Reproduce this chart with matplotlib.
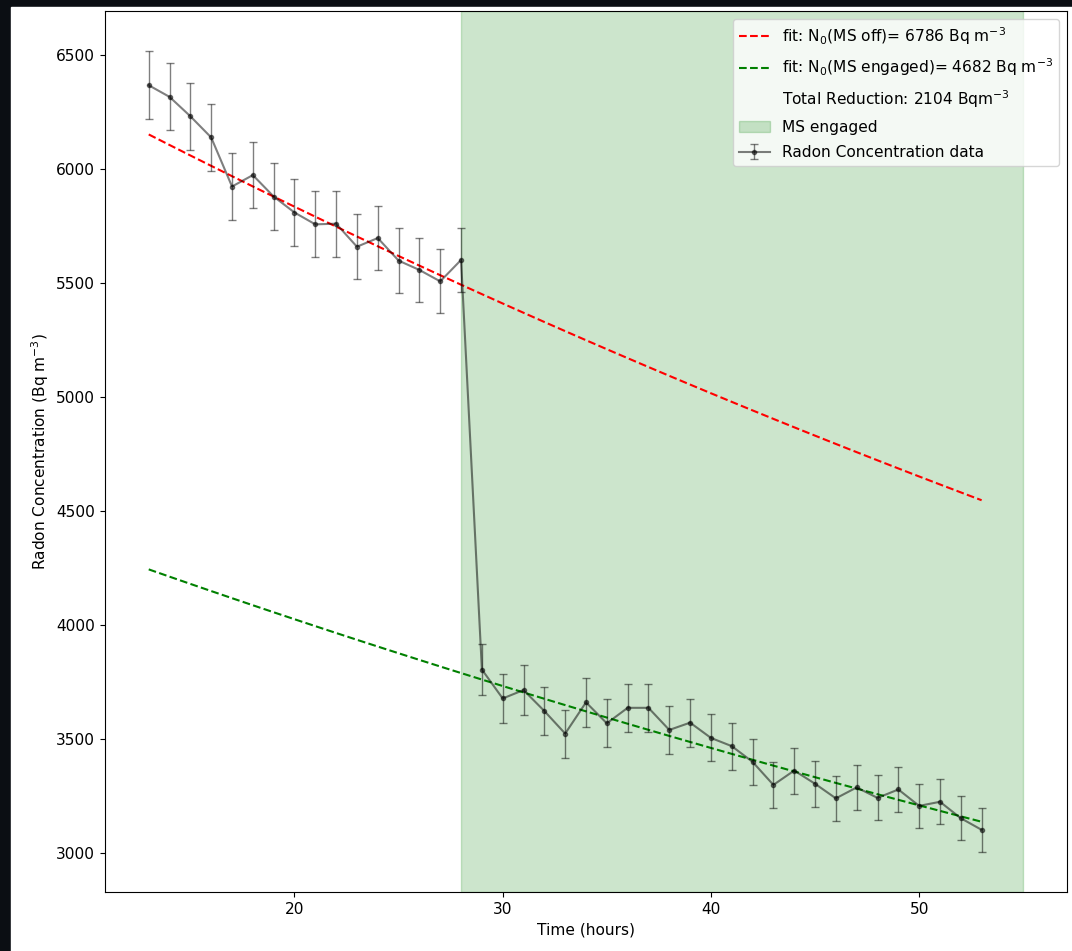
# radon concentration before / after mitigation system (MS) switch-on

import numpy as np
import matplotlib.pyplot as plt
from matplotlib.patches import Rectangle

# measured data (hours, Bq/m^3)
time_h = list(range(13, 54))
radon = [6367, 6316, 6231, 6138, 5923, 5973, 5879, 5809, 5757, 5760,
         5659, 5697, 5598, 5557, 5507, 5601,
         3805, 3678, 3715, 3623, 3524, 3661, 3569, 3637, 3637, 3540,
         3572, 3505, 3469, 3400, 3299, 3362, 3304, 3240, 3288, 3242,
         3279, 3207, 3225, 3153, 3102]
radon_err = [150, 147, 147, 145, 145, 145, 145, 145, 145, 145,
             142, 142, 142, 142, 140, 140,
             110, 107, 108, 107, 105, 106, 105, 106, 106, 104,
             105, 103, 103, 102, 100, 101, 100, 99, 100, 99,
             100, 98, 99, 97, 97]

# fit results
n0_off = 6786
n0_engaged = 4682
ms_start, ms_end = 28, 55
half_life_h = 3.8235 * 24  # Rn-222
lam = np.log(2) / half_life_h


def decay(n0, t):
    return n0 * np.exp(-lam * np.asarray(t))


plt.rcParams['font.size'] = 11.1

fig, ax = plt.subplots(figsize=(10.72, 9.51), dpi=100)
fig.set_facecolor('#0b0e13')
fig.patches.append(Rectangle((11 / 1072, 0), 1 - 11 / 1072, 944 / 951,
                             transform=fig.transFigure, color='white', zorder=-1))
fig.subplots_adjust(left=105 / 1072, right=1067 / 1072, top=1 - 11 / 951, bottom=1 - 892 / 951)

ax.plot(time_h, decay(n0_off, time_h), 'r--', label=f'fit: N$_0$(MS off)= {n0_off} Bq m$^{{-3}}$')
ax.plot(time_h, decay(n0_engaged, time_h), 'g--', label=f'fit: N$_0$(MS engaged)= {n0_engaged} Bq m$^{{-3}}$')
ax.plot([], [], ' ', label=f'Total Reduction: {n0_off - n0_engaged} Bqm$^{{-3}}$')
ax.axvspan(ms_start, ms_end, color='green', alpha=0.2, label='MS engaged')
ax.errorbar(time_h, radon, yerr=radon_err, fmt='.-', color='black', alpha=0.5,
            elinewidth=1, capsize=3, label='Radon Concentration data')

ax.set_xlabel('Time (hours)')
ax.set_ylabel('Radon Concentration (Bq m$^{-3}$)')
ax.legend(loc='upper right', labelspacing=0.65)

fig.savefig('out.png', dpi=100, facecolor=fig.get_facecolor())
